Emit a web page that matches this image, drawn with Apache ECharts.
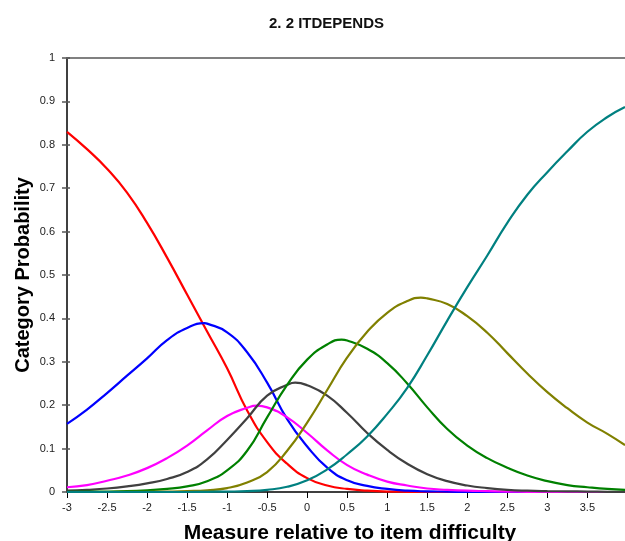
<!DOCTYPE html>
<html>
<head>
<meta charset="utf-8">
<script src="https://cdn.jsdelivr.net/npm/echarts@6/dist/echarts.min.js"></script>
<style>html,body{margin:0;padding:0;background:#fff}#c{width:625px;height:541px}</style>
</head>
<body>
<div id="c"></div>
<script>
const title = "2. 2 ITDEPENDS";
const xName = "Measure relative to item difficulty";
const yName = "Category Probability";
const xTicks = [-3, -2.5, -2, -1.5, -1, -0.5, 0, 0.5, 1, 1.5, 2, 2.5, 3, 3.5];
const xs = [-3, -2.75, -2.5, -2.25, -2, -1.75, -1.5, -1.25, -1, -0.75, -0.5, -0.25, 0, 0.25, 0.5, 0.75, 1, 1.25, 1.5, 1.75, 2, 2.25, 2.5, 2.75, 3, 3.25, 3.5, 3.75, 3.97];
const cat0 = [0.83, 0.79, 0.745, 0.69, 0.62, 0.54, 0.455, 0.37, 0.285, 0.188, 0.115, 0.065, 0.032, 0.015, 0.007, 0.003, 0.001, 0.0005, 0, 0, 0, 0, 0, 0, 0, 0, 0, 0, 0];
const cat1 = [0.157, 0.19, 0.228, 0.268, 0.308, 0.35, 0.378, 0.388, 0.368, 0.322, 0.252, 0.168, 0.105, 0.056, 0.027, 0.014, 0.007, 0.003, 0.0015, 0.001, 0, 0, 0, 0, 0, 0, 0, 0, 0];
const cat2 = [0.011, 0.016, 0.026, 0.038, 0.055, 0.078, 0.107, 0.142, 0.175, 0.194, 0.195, 0.172, 0.136, 0.096, 0.062, 0.04, 0.024, 0.015, 0.008, 0.005, 0.003, 0.002, 0.001, 0.0005, 0, 0, 0, 0, 0];
const cat3 = [0.003, 0.005, 0.008, 0.013, 0.02, 0.03, 0.046, 0.075, 0.12, 0.17, 0.222, 0.247, 0.246, 0.222, 0.182, 0.136, 0.097, 0.065, 0.041, 0.025, 0.015, 0.009, 0.005, 0.003, 0.002, 0.0015, 0.001, 0.0005, 0.0003];
const cat4 = [0.0005, 0.0007, 0.001, 0.002, 0.004, 0.007, 0.013, 0.025, 0.05, 0.095, 0.172, 0.247, 0.305, 0.34, 0.349, 0.33, 0.297, 0.25, 0.195, 0.145, 0.107, 0.078, 0.056, 0.038, 0.025, 0.016, 0.011, 0.007, 0.005];
const cat5 = [0, 0, 0, 0.0003, 0.0005, 0.001, 0.002, 0.004, 0.009, 0.022, 0.046, 0.095, 0.16, 0.235, 0.31, 0.369, 0.413, 0.44, 0.446, 0.433, 0.405, 0.367, 0.32, 0.273, 0.23, 0.193, 0.16, 0.134, 0.108];
const cat6 = [0, 0, 0, 0, 0, 0, 0, 0.0005, 0.001, 0.002, 0.005, 0.012, 0.027, 0.052, 0.087, 0.128, 0.18, 0.24, 0.315, 0.395, 0.472, 0.545, 0.62, 0.685, 0.737, 0.785, 0.83, 0.864, 0.887];
// peak of each curve: [x, probability] (null = no interior peak)
const peaks = [null, [-1.28, 0.389], [-0.63, 0.199], [-0.15, 0.252], [0.43, 0.351], [1.42, 0.448], null];

const seriesData = [cat0, cat1, cat2, cat3, cat4, cat5, cat6];
const colors = ['#ff0000', '#0000ff', '#ff00ff', '#404040', '#008000', '#808000', '#008080'];

function buildData(vals, peak) {
  const pts = xs.map((x, j) => [x, vals[j]]);
  if (peak) {
    const idx = pts.findIndex(p => p[0] > peak[0]);
    pts.splice(idx, 0, peak.slice());
  }
  return pts;
}

const chart = echarts.init(document.getElementById('c'), null, {renderer: 'canvas'});
const font = 'Liberation Sans, Arial, sans-serif';
chart.setOption({
  animation: false,
  backgroundColor: '#ffffff',
  title: {
    text: title, left: 264, top: 11,
    textStyle: {fontFamily: font, fontSize: 15, fontWeight: 'bold', color: '#111'}
  },
  grid: {left: 67, right: 0, top: 58, bottom: 49, containLabel: false, outerBoundsMode: 'none'},
  xAxis: [{
    type: 'value', min: -3, max: 3.97, interval: 0.5,
    name: xName, nameLocation: 'middle', nameGap: 31, nameMoveOverlap: false,
    nameTextStyle: {fontFamily: font, fontSize: 21, fontWeight: 'bold', color: '#000', padding: [0, 0, 0, 8]},
    axisLine: {onZero: false, lineStyle: {color: '#000', width: 1.5}},
    axisTick: {customValues: xTicks, length: 6, lineStyle: {color: '#000'}},
    axisLabel: {customValues: xTicks, fontFamily: font, fontSize: 11, color: '#222', margin: 10, formatter: v => String(v)},
    splitLine: {show: false}
  }, {
    type: 'value', min: -3, max: 3.97, position: 'top',
    axisLine: {show: true, onZero: false, lineStyle: {color: '#808080', width: 2}},
    axisTick: {show: false}, axisLabel: {show: false}, splitLine: {show: false}
  }],
  yAxis: [{
    type: 'value', min: 0, max: 1, interval: 0.1,
    name: yName, nameLocation: 'middle', nameGap: 34, nameRotate: 90, nameMoveOverlap: false,
    nameTextStyle: {fontFamily: font, fontSize: 20, fontWeight: 'bold', color: '#000'},
    axisLine: {show: true, onZero: false, lineStyle: {color: '#000', width: 1.5}},
    axisTick: {show: true, length: 5, lineStyle: {color: '#555', width: 1.5}},
    axisLabel: {fontFamily: font, fontSize: 11, color: '#222', margin: 12, formatter: v => String(+v.toFixed(1))},
    splitLine: {show: false}
  }, {
    type: 'value', min: 0, max: 1, interval: 0.1, position: 'left',
    axisLine: {show: false, onZero: false},
    axisTick: {show: true, inside: true, length: 3, lineStyle: {color: '#555', width: 1.5}},
    axisLabel: {show: false}, splitLine: {show: false}
  }],
  series: seriesData.map((d, i) => ({
    type: 'line', xAxisIndex: 0, yAxisIndex: 0,
    data: buildData(d, peaks[i]),
    showSymbol: false, smooth: true,
    lineStyle: {color: colors[i], width: 2.2},
    itemStyle: {color: colors[i]},
    clip: true, z: 2 + i
  }))
});
</script>
</body>
</html>
